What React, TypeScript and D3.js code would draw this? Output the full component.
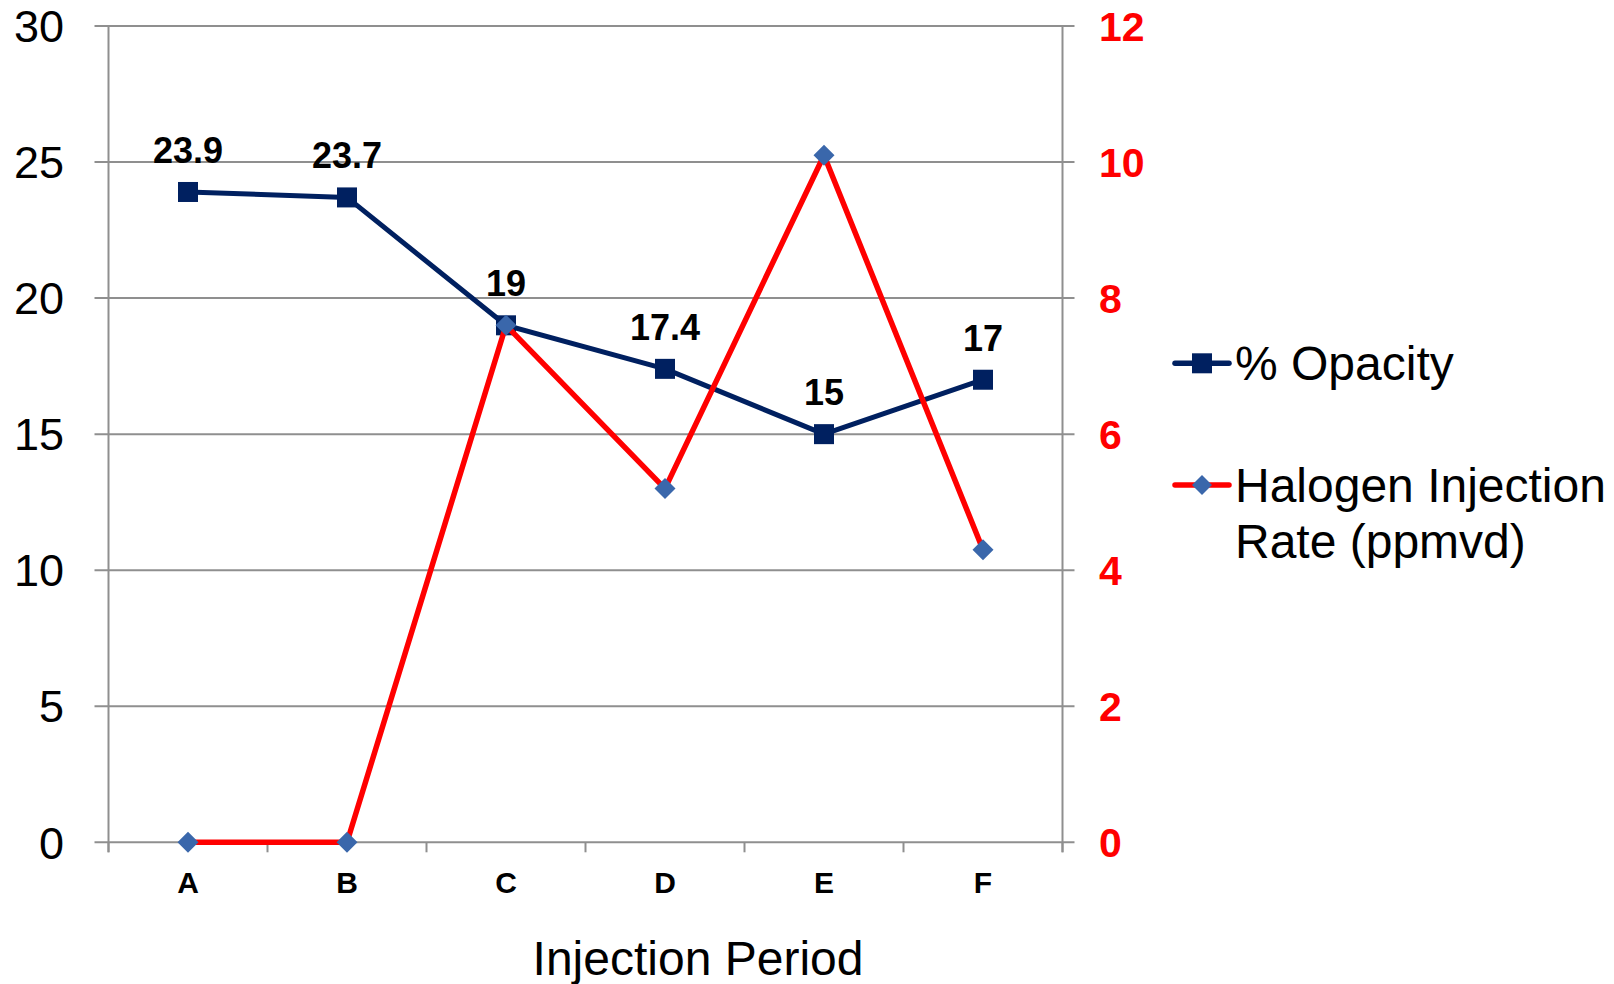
import { useEffect } from "react";
import * as d3 from "d3";

// values
const periods = ["A", "B", "C", "D", "E", "F"];
const opacity = [23.9, 23.7, 19, 17.4, 15, 17];
const halogen = [0, 0, 7.6, 5.2, 10.1, 4.3];
const leftTicks = [0, 5, 10, 15, 20, 25, 30];
const rightTicks = [0, 2, 4, 6, 8, 10, 12];

const W = 1614;
const H = 984;
const FONT = "Arial, 'Liberation Sans', sans-serif";
const NAVY = "#002060";
const RED = "#ff0000";
const DIAMOND = "#3a67ab";
const GRID = "#8f8f8f";

const plot = { left: 108.5, right: 1062.5, top: 26, bottom: 842.3 };

const App = () => {
  useEffect(() => {
    document.body.style.margin = "0";
  }, []);

  const x = d3
    .scaleBand<string>()
    .domain(periods)
    .range([plot.left, plot.right]);
  const cx = (p: string) => (x(p) ?? 0) + x.bandwidth() / 2;

  const yLeft = d3.scaleLinear().domain([0, 30]).range([plot.bottom, plot.top]);
  const yRight = d3.scaleLinear().domain([0, 12]).range([plot.bottom, plot.top]);

  const opacityLine = d3
    .line<number>()
    .x((_, i) => cx(periods[i]))
    .y((d) => yLeft(d));
  const halogenLine = d3
    .line<number>()
    .x((_, i) => cx(periods[i]))
    .y((d) => yRight(d));

  const sq = 20;
  const dia = 10.5;
  const diamondPath = (px: number, py: number, r: number) =>
    `M${px},${py - r}L${px + r},${py}L${px},${py + r}L${px - r},${py}Z`;

  const boundaries = [...periods.map((p) => x(p) ?? 0), plot.right];

  return (
    <svg width={W} height={H} style={{ display: "block", background: "#fff" }}>
      {/* gridlines, extend out as ticks on both sides */}
      {leftTicks.map((t) => (
        <line
          key={"g" + t}
          x1={plot.left - 14}
          x2={plot.right + 12}
          y1={yLeft(t)}
          y2={yLeft(t)}
          stroke={GRID}
          strokeWidth={2}
        />
      ))}
      <line x1={plot.left} x2={plot.left} y1={plot.top} y2={plot.bottom + 10} stroke={GRID} strokeWidth={2} />
      <line x1={plot.right} x2={plot.right} y1={plot.top} y2={plot.bottom + 10} stroke={GRID} strokeWidth={2} />
      {boundaries.map((b, i) => (
        <line key={"t" + i} x1={b} x2={b} y1={plot.bottom} y2={plot.bottom + 10} stroke={GRID} strokeWidth={2} />
      ))}

      {/* left axis labels */}
      {leftTicks.map((t) => (
        <text
          key={"l" + t}
          x={64}
          y={yLeft(t)}
          dy="0.36em"
          textAnchor="end"
          fontFamily={FONT}
          fontSize={45}
          fill="#000"
        >
          {t}
        </text>
      ))}

      {/* right axis labels */}
      {rightTicks.map((t) => (
        <text
          key={"r" + t}
          x={1099}
          y={yRight(t)}
          dy="0.36em"
          textAnchor="start"
          fontFamily={FONT}
          fontSize={41}
          fontWeight="bold"
          fill={RED}
        >
          {t}
        </text>
      ))}

      {/* category labels */}
      {periods.map((p) => (
        <text
          key={"c" + p}
          x={cx(p)}
          y={892.7}
          textAnchor="middle"
          fontFamily={FONT}
          fontSize={30}
          fontWeight="bold"
          fill="#000"
        >
          {p}
        </text>
      ))}

      <text x={698} y={975} textAnchor="middle" fontFamily={FONT} fontSize={48} fill="#000">
        Injection Period
      </text>

      {/* % Opacity series */}
      <path d={opacityLine(opacity) ?? ""} fill="none" stroke={NAVY} strokeWidth={5} strokeLinejoin="round" />
      {opacity.map((v, i) => (
        <rect
          key={"s" + i}
          x={cx(periods[i]) - sq / 2}
          y={yLeft(v) - sq / 2}
          width={sq}
          height={sq}
          fill={NAVY}
        />
      ))}

      {/* halogen series */}
      <path d={halogenLine(halogen) ?? ""} fill="none" stroke={RED} strokeWidth={5.5} strokeLinejoin="round" />
      {halogen.map((v, i) => (
        <path key={"d" + i} d={diamondPath(cx(periods[i]), yRight(v), dia)} fill={DIAMOND} />
      ))}

      {/* data labels */}
      {opacity.map((v, i) => (
        <text
          key={"v" + i}
          x={cx(periods[i])}
          y={yLeft(v) - 29}
          textAnchor="middle"
          fontFamily={FONT}
          fontSize={36}
          fontWeight="bold"
          fill="#000"
        >
          {v}
        </text>
      ))}

      {/* legend */}
      <g>
        <line x1={1175} x2={1229} y1={363.3} y2={363.3} stroke={NAVY} strokeWidth={5.5} strokeLinecap="round" />
        <rect x={1202 - 10} y={363.3 - 10} width={20} height={20} fill={NAVY} />
        <text x={1235} y={380} fontFamily={FONT} fontSize={48} fill="#000">
          % Opacity
        </text>
        <line x1={1175} x2={1229} y1={485} y2={485} stroke={RED} strokeWidth={5.5} strokeLinecap="round" />
        <path d={diamondPath(1202, 485, 10)} fill={DIAMOND} />
        <text x={1235} y={501.7} fontFamily={FONT} fontSize={48} fill="#000">
          Halogen Injection
        </text>
        <text x={1235} y={558} fontFamily={FONT} fontSize={48} fill="#000">
          Rate (ppmvd)
        </text>
      </g>
    </svg>
  );
};

export default App;
